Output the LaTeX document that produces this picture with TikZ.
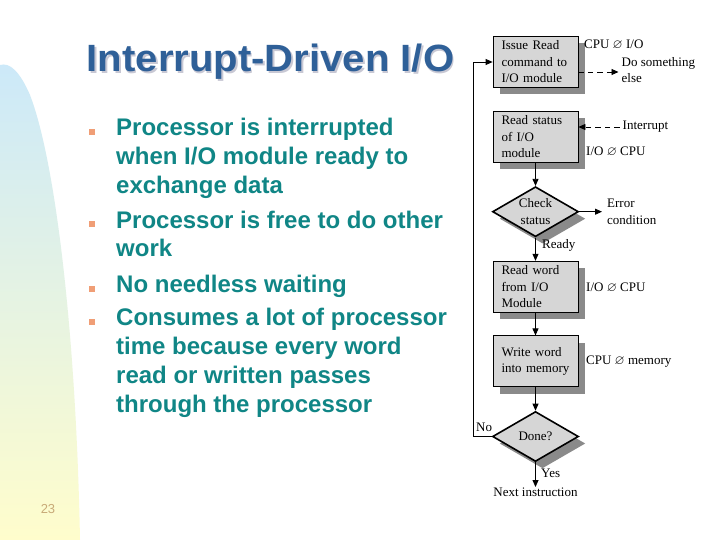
\documentclass[tikz,border=0pt]{standalone}
\usepackage{fontspec}
\usepackage{amssymb}
\usepackage{graphicx}
\setmainfont{Liberation Serif}
\newfontfamily\arialfont{Liberation Sans}
\usetikzlibrary{shapes.geometric,shadows,arrows.meta}
\definecolor{titleblue}{RGB}{47,96,152}
\definecolor{titleshadow}{RGB}{200,200,212}
\definecolor{bullettext}{RGB}{16,134,134}
\definecolor{bulletsq}{RGB}{240,158,118}
\definecolor{boxfill}{RGB}{214,214,214}
\definecolor{boxshadow}{RGB}{138,138,138}
\definecolor{pagenum}{RGB}{200,170,120}
\definecolor{bgblue}{RGB}{204,233,249}
\definecolor{bgyellow}{RGB}{255,253,204}
\newcommand{\flowsym}{$\varnothing$}
\newcommand{\flowfont}{\fontsize{13}{16.5}\selectfont}
\newcommand{\bulletfont}{\arialfont\bfseries\fontsize{24}{28.8}\selectfont}
\newcommand{\titlefont}{\arialfont\bfseries\fontsize{38}{44}\selectfont}
\tikzset{
  procbox/.style={draw=black, line width=0.8pt, fill=boxfill, minimum width=85pt,
    minimum height=51pt, text width=68pt, inner xsep=8.5pt, inner ysep=0pt,
    align=left, font=\flowfont,
    drop shadow={shadow xshift=7pt, shadow yshift=-7pt, fill=boxshadow, opacity=1}},
  decision/.style={diamond, draw=black, line width=1.6pt, fill=boxfill,
    minimum width=86pt, minimum height=50pt, inner sep=0pt, aspect=1.72,
    align=center, font=\flowfont,
    drop shadow={shadow xshift=7pt, shadow yshift=-7pt, fill=boxshadow, opacity=1}},
  lbl/.style={font=\flowfont, inner sep=1pt, align=left},
  flow/.style={line width=0.8pt, -{Triangle[length=7pt,width=6pt]}},
  dflow/.style={flow, dash pattern=on 5.5pt off 4pt},
  btxt/.style={font=\bulletfont, text=bullettext, anchor=base west, inner sep=0pt},
  sqbullet/.style={fill=bulletsq, minimum size=6pt, inner sep=0pt}
}
\begin{document}
\begin{tikzpicture}[x=1pt,y=-1pt]
\useasboundingbox (0,0) rectangle (720,540);
\fill[white] (0,0) rectangle (720,540);
% left background shape
\shade[top color=bgblue, bottom color=bgyellow]
  (0,540) -- (0,65) .. controls (10,62) and (20,72) .. (30,95)
  .. controls (55,160) and (76,330) .. (80,540) -- cycle;
% title
\node[font=\titlefont, text=titleshadow, anchor=base] (titlesh) at (272,73.5) {\scalebox{1.055}[1]{Interrupt-Driven I/O}};
\node[font=\titlefont, text=titleblue, anchor=base] (title) at (270.5,72) {\scalebox{1.055}[1]{Interrupt-Driven I/O}};
% bullets
\node[sqbullet] (bq1) at (92.2,132.2) {};
\node[btxt] (t11) at (116,136) {Processor is interrupted};
\node[btxt] (t12) at (116,164.8) {when I/O module ready to};
\node[btxt] (t13) at (116,193.6) {exchange data};
\node[sqbullet] (bq2) at (92.2,224.3) {};
\node[btxt] (t21) at (116,228.1) {Processor is free to do other};
\node[btxt] (t22) at (116,256.9) {work};
\node[sqbullet] (bq3) at (92.2,288.5) {};
\node[btxt] (t31) at (116,292) {No needless waiting};
\node[sqbullet] (bq4) at (92.2,321.6) {};
\node[btxt] (t41) at (116,325.9) {Consumes a lot of processor};
\node[btxt] (t42) at (116,354.7) {time because every word};
\node[btxt] (t43) at (116,383.5) {read or written passes};
\node[btxt] (t44) at (116,412.3) {through the processor};
% page number
\node[font=\arialfont\fontsize{13}{15}\selectfont, text=pagenum] (pg) at (48,509) {23};
% flowchart
\node[procbox] (b1) at (535.5,62) {Issue Read\\command to\\I/O module};
\node[procbox] (b2) at (535.5,137) {Read status\\of I/O\\module};
\node[decision] (d1) at (535.5,211.7) {Check\\status};
\node[procbox] (b3) at (535.5,286.7) {Read word\\from I/O\\Module};
\node[procbox] (b4) at (535.5,361.3) {Write word\\into memory};
\node[decision] (d2) at (535.5,436.5) {Done?};
% labels
\node[lbl, anchor=west] (l1) at (583,45) {CPU \flowsym{} I/O};
\node[lbl, anchor=west] (dse) at (620.5,70) {Do something\\else};
\node[lbl, anchor=west] (intr) at (621.5,127) {Interrupt};
\node[lbl, anchor=west] (l2) at (585,152) {I/O \flowsym{} CPU};
\node[lbl, anchor=west] (err) at (606,211.7) {Error\\condition};
\node[lbl, anchor=west] (rdy) at (541,245) {Ready};
\node[lbl, anchor=west] (l3) at (585,288) {I/O \flowsym{} CPU};
\node[lbl, anchor=west] (l4) at (585,362) {CPU \flowsym{} memory};
\node[lbl, anchor=west] (no) at (475,427.5) {No};
\node[lbl, anchor=west] (yes) at (540,473.5) {Yes};
\node[lbl, anchor=north] (next) at (535.5,487) {Next instruction};
% connectors
\draw[dflow, shorten >=2pt] ([yshift=-10pt]b1.east) -- ([yshift=-10pt]b1.east -| dse.west);
\draw[dflow, shorten <=2pt] (intr.west) -- (b2.east |- intr.west);
\draw[flow] (b2.south) -- (d1.north);
\draw[flow, shorten >=4pt] (d1.east) -- (err.west);
\draw[flow] (d1.south) -- (b3.north);
\draw[flow] (b3.south) -- (b4.north);
\draw[flow] (b4.south) -- (d2.north);
\draw[flow] (d2.south) -- (next.north);
\coordinate (lp) at (473,436.5);
\draw[flow] (d2.west) -- (lp) |- (b1.west);
\end{tikzpicture}
\end{document}
